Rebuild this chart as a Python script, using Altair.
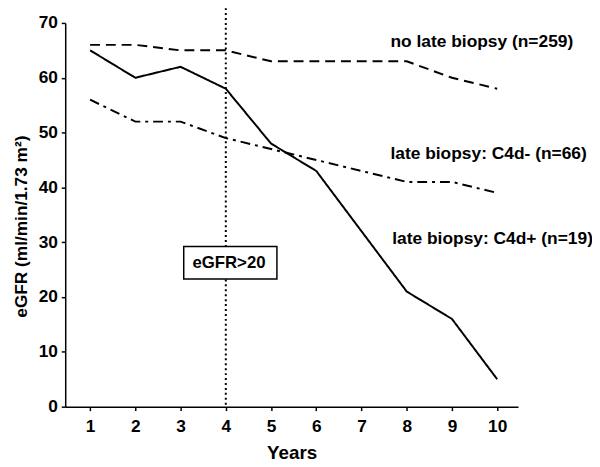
import altair as alt
import pandas as pd

years = [1, 2, 3, 4, 5, 6, 7, 8, 9, 10]
no_late_biopsy = [66, 66, 65, 65, 63, 63, 63, 63, 60, 58]
c4d_neg = [56, 52, 52, 49, 47, 45, 43, 41, 41, 39]
c4d_pos = [65, 60, 62, 58, 48, 43, 32, 21, 16, 5]

series_names = ["no late biopsy (n=259)", "late biopsy: C4d- (n=66)", "late biopsy: C4d+ (n=19)"]
series_dash = [[10, 6], [10, 5, 3, 5], [1, 0]]

label_x = [7.64, 7.64, 7.68]
label_y = [66.5, 46.0, 30.5]

cutoff_year = 4
box_text = "eGFR>20"

FONT = "Liberation Sans"

rows = []
for name, vals in zip(series_names, [no_late_biopsy, c4d_neg, c4d_pos]):
    for yr, v in zip(years, vals):
        rows.append({"Years": yr, "eGFR": v, "series": name})
df = pd.DataFrame(rows)

xscale = alt.Scale(domain=[0.45, 10.46], nice=False, zero=False)
yscale = alt.Scale(domain=[0, 70], nice=False)

lines = alt.Chart(df).mark_line(color="black", strokeWidth=2).encode(
    x=alt.X("Years:Q", scale=xscale,
            axis=alt.Axis(values=years, title="Years", grid=False, format="d")),
    y=alt.Y("eGFR:Q", scale=yscale,
            axis=alt.Axis(values=list(range(0, 71, 10)), title="eGFR (ml/min/1.73 m²)", grid=False,
                          titleY=206)),
    strokeDash=alt.StrokeDash("series:N", scale=alt.Scale(domain=series_names, range=series_dash), legend=None),
    detail="series:N",
)

rule_df = pd.DataFrame({"x": [cutoff_year]})
rule = alt.Chart(rule_df).mark_rule(color="black", strokeWidth=2, strokeDash=[2, 3]).encode(
    x=alt.X("x:Q", scale=xscale),
    y=alt.value(-20),
    y2=alt.value(389),
)

box_df = pd.DataFrame({"x": [3.07], "x2": [5.13], "y": [29.2], "y2": [23.3]})
box = alt.Chart(box_df).mark_rect(fill="white", stroke="black", strokeWidth=1.5).encode(
    x=alt.X("x:Q", scale=xscale), x2="x2:Q",
    y=alt.Y("y:Q", scale=yscale), y2="y2:Q",
)

box_txt_df = pd.DataFrame({"x": [4.07], "y": [26.2], "t": [box_text]})
box_txt = alt.Chart(box_txt_df).mark_text(font=FONT, fontWeight="bold", fontSize=17, color="black").encode(
    x=alt.X("x:Q", scale=xscale), y=alt.Y("y:Q", scale=yscale), text="t:N"
)

lab_df = pd.DataFrame({"x": label_x, "y": label_y, "t": series_names})
labels = alt.Chart(lab_df).mark_text(font=FONT, fontWeight="bold", fontSize=17.6, color="black",
                                     align="left", baseline="middle").encode(
    x=alt.X("x:Q", scale=xscale), y=alt.Y("y:Q", scale=yscale), text="t:N"
)

chart = alt.layer(lines, rule, box, box_txt, labels).properties(
    width=459, height=389,
    autosize=alt.AutoSizeParams(type="none"),
    padding={"left": 58, "top": 12, "right": 75, "bottom": 58},
).configure_view(stroke=None).configure_axis(
    domainColor="black", domainWidth=1.5, tickColor="black", tickWidth=1.5, tickSize=4,
    labelFont=FONT, labelFontWeight="bold", labelFontSize=17.5, labelColor="black",
    titleFont=FONT, titleFontWeight="bold", titleColor="black",
).configure_axisX(labelPadding=7, titleFontSize=19, titlePadding=9) \
 .configure_axisY(labelPadding=4, titleFontSize=17.5, titlePadding=8)

chart.save("out.html", embed_options={"renderer": "svg", "actions": False})
